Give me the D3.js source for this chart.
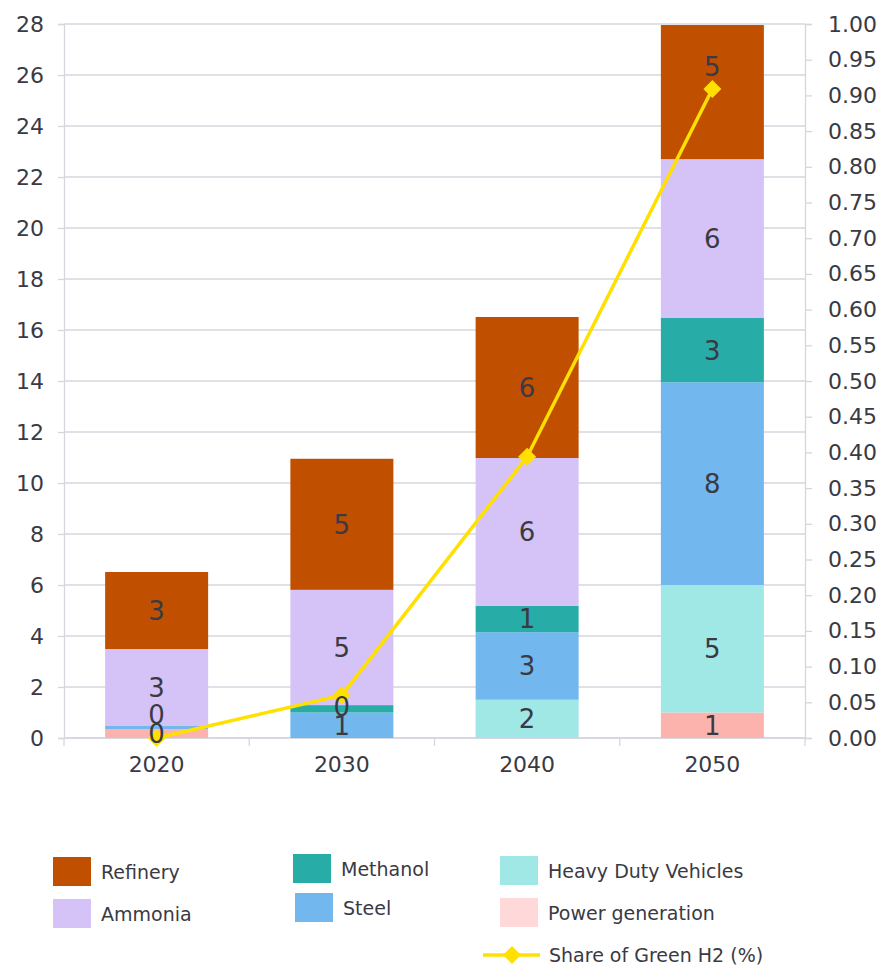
<!DOCTYPE html>
<html><head><meta charset="utf-8">
<script src="https://cdn.jsdelivr.net/npm/d3@7"></script>
<style>body{margin:0;background:#fff}svg{display:block}text{font-family:"DejaVu Sans",sans-serif;fill:#3a3a44}</style>
</head><body><svg id="c" width="885" height="966"></svg>
<script>
const years = ["2020","2030","2040","2050"];
const seriesNames = ["Power generation","Heavy Duty Vehicles","Steel","Methanol","Ammonia","Refinery"];
const powerGeneration   = [0.35, 0, 0, 1.0];
const heavyDutyVehicles = [0, 0, 1.5, 5.0];
const steel             = [0.12, 1.0, 2.65, 7.95];
const methanol          = [0, 0.29, 1.03, 2.52];
const ammonia           = [3.02, 4.52, 5.8, 6.23];
const refinery          = [3.02, 5.14, 5.53, 5.26];
const shareGreenH2      = [0.0, 0.06, 0.394, 0.909];
const leftTicks  = d3.range(0, 28.01, 2);
const rightTicks = d3.range(0, 1.0001, 0.05);
const colors = {"Refinery":"#c05000","Ammonia":"#d5c2f6","Methanol":"#27aca8","Steel":"#72b8ef","Heavy Duty Vehicles":"#a0e8e6","Power generation":"#fdb3ad"};
const legendColors = {"Refinery":"#c05000","Ammonia":"#d5c2f6","Methanol":"#27aca8","Steel":"#72b8ef","Heavy Duty Vehicles":"#a0e8e6","Power generation":"#ffd9d9"};

const valuesBy = {"Power generation":powerGeneration,"Heavy Duty Vehicles":heavyDutyVehicles,"Steel":steel,"Methanol":methanol,"Ammonia":ammonia,"Refinery":refinery};
const table = years.map((y,i)=>{const o={year:y}; seriesNames.forEach(s=>o[s]=valuesBy[s][i]); return o;});

const svg = d3.select("#c");
const L=64, R=805, T=24, B=738;
const x = d3.scaleBand().domain(years).range([L,R]).paddingInner(0.444).paddingOuter(0.222);
const y = d3.scaleLinear().domain([0,28]).range([B,T]);
const y2 = d3.scaleLinear().domain([0,1]).range([B,T]);
const grid="#d6d6de";

svg.append("g").selectAll("line").data(leftTicks).join("line")
  .attr("x1",L).attr("x2",R).attr("y1",d=>y(d)).attr("y2",d=>y(d)).attr("stroke",grid).attr("stroke-width",1.3);

const gl = svg.append("g").attr("transform",`translate(${L},0)`)
  .call(d3.axisLeft(y).tickValues(leftTicks).tickSize(6).tickPadding(14).tickFormat(d3.format("d")));
const gr = svg.append("g").attr("transform",`translate(${R},0)`)
  .call(d3.axisRight(y2).tickValues(rightTicks).tickSize(7).tickPadding(16).tickFormat(d3.format(".2f")));
[gl,gr].forEach(g=>{g.selectAll("path,line").attr("stroke",grid).attr("stroke-width",1.3);
  g.selectAll("text").style("font-size","22px").attr("fill","#3a3a44");});
const step = x.step();
const gb = svg.append("g").attr("transform",`translate(0,${B})`);
gb.append("line").attr("x1",L).attr("x2",R).attr("stroke",grid).attr("stroke-width",1.3);
gb.selectAll("line.t").data(d3.range(years.length+1)).join("line").attr("class","t")
  .attr("x1",i=>L+i*step).attr("x2",i=>L+i*step).attr("y1",0).attr("y2",8).attr("stroke",grid).attr("stroke-width",1.3);
gb.selectAll("text").data(years).join("text").attr("x",d=>x(d)+x.bandwidth()/2).attr("y",34)
  .attr("text-anchor","middle").style("font-size","22px").text(d=>d);

const stack = d3.stack().keys(seriesNames)(table);
svg.append("g").selectAll("g").data(stack).join("g").attr("fill",d=>colors[d.key])
  .selectAll("rect").data(d=>d).join("rect")
  .attr("x",d=>x(d.data.year)).attr("width",x.bandwidth())
  .attr("y",d=>y(d[1])).attr("height",d=>y(d[0])-y(d[1]));

const pts = years.map((yr,i)=>[x(yr)+x.bandwidth()/2, y2(shareGreenH2[i])]);
svg.append("path").attr("d",d3.line()(pts)).attr("fill","none").attr("stroke","#ffe000").attr("stroke-width",3.5);
const diamond = r=>`M0,${-r}L${r},0L0,${r}L${-r},0Z`;
svg.append("g").selectAll("path").data(pts).join("path").attr("transform",d=>`translate(${d[0]},${d[1]})`)
  .attr("d",diamond(9)).attr("fill","#ffe000");

// labels: centred in segment, pushed up past previous label, and above the marker when the segment has room
const labG = svg.append("g");
const halfH = 10;
years.forEach((yr,i)=>{
  let lastY = Infinity;
  const my = pts[i][1];
  stack.forEach(s=>{
    const d=s[i]; const v=d[1]-d[0];
    if(v<=0) return;
    const top=y(d[1]), bot=y(d[0]);
    let cy=(top+bot)/2;
    if(lastY-cy<19) cy=lastY-19;
    if(Math.abs(cy-my)<halfH+9 && (my-9-4-halfH)-top>halfH) cy=my-9-4-halfH+1;
    lastY=cy;
    labG.append("text").attr("x",x(yr)+x.bandwidth()/2).attr("y",cy).attr("dy","0.36em")
      .attr("text-anchor","middle").style("font-size","26px").attr("fill","#333340").text(Math.round(v));
  });
});

const legendItems = [
  {name:"Refinery",x:53,y:857},{name:"Ammonia",x:53,y:899},
  {name:"Methanol",x:293,y:854},{name:"Steel",x:295,y:893},
  {name:"Heavy Duty Vehicles",x:500,y:856},{name:"Power generation",x:500,y:898}];
const lg = svg.append("g");
legendItems.forEach(it=>{
  lg.append("rect").attr("x",it.x).attr("y",it.y).attr("width",38).attr("height",29).attr("fill",legendColors[it.name]);
  lg.append("text").attr("x",it.x+48).attr("y",it.y+15).attr("dy","0.36em").style("font-size","19px").text(it.name);
});
lg.append("line").attr("x1",483).attr("x2",540).attr("y1",955).attr("y2",955).attr("stroke","#ffe000").attr("stroke-width",3.5);
lg.append("path").attr("transform","translate(512,955)").attr("d",diamond(9)).attr("fill","#ffe000");
lg.append("text").attr("x",549).attr("y",955).attr("dy","0.36em").style("font-size","19px").text("Share of Green H2 (%)");
</script></body></html>
